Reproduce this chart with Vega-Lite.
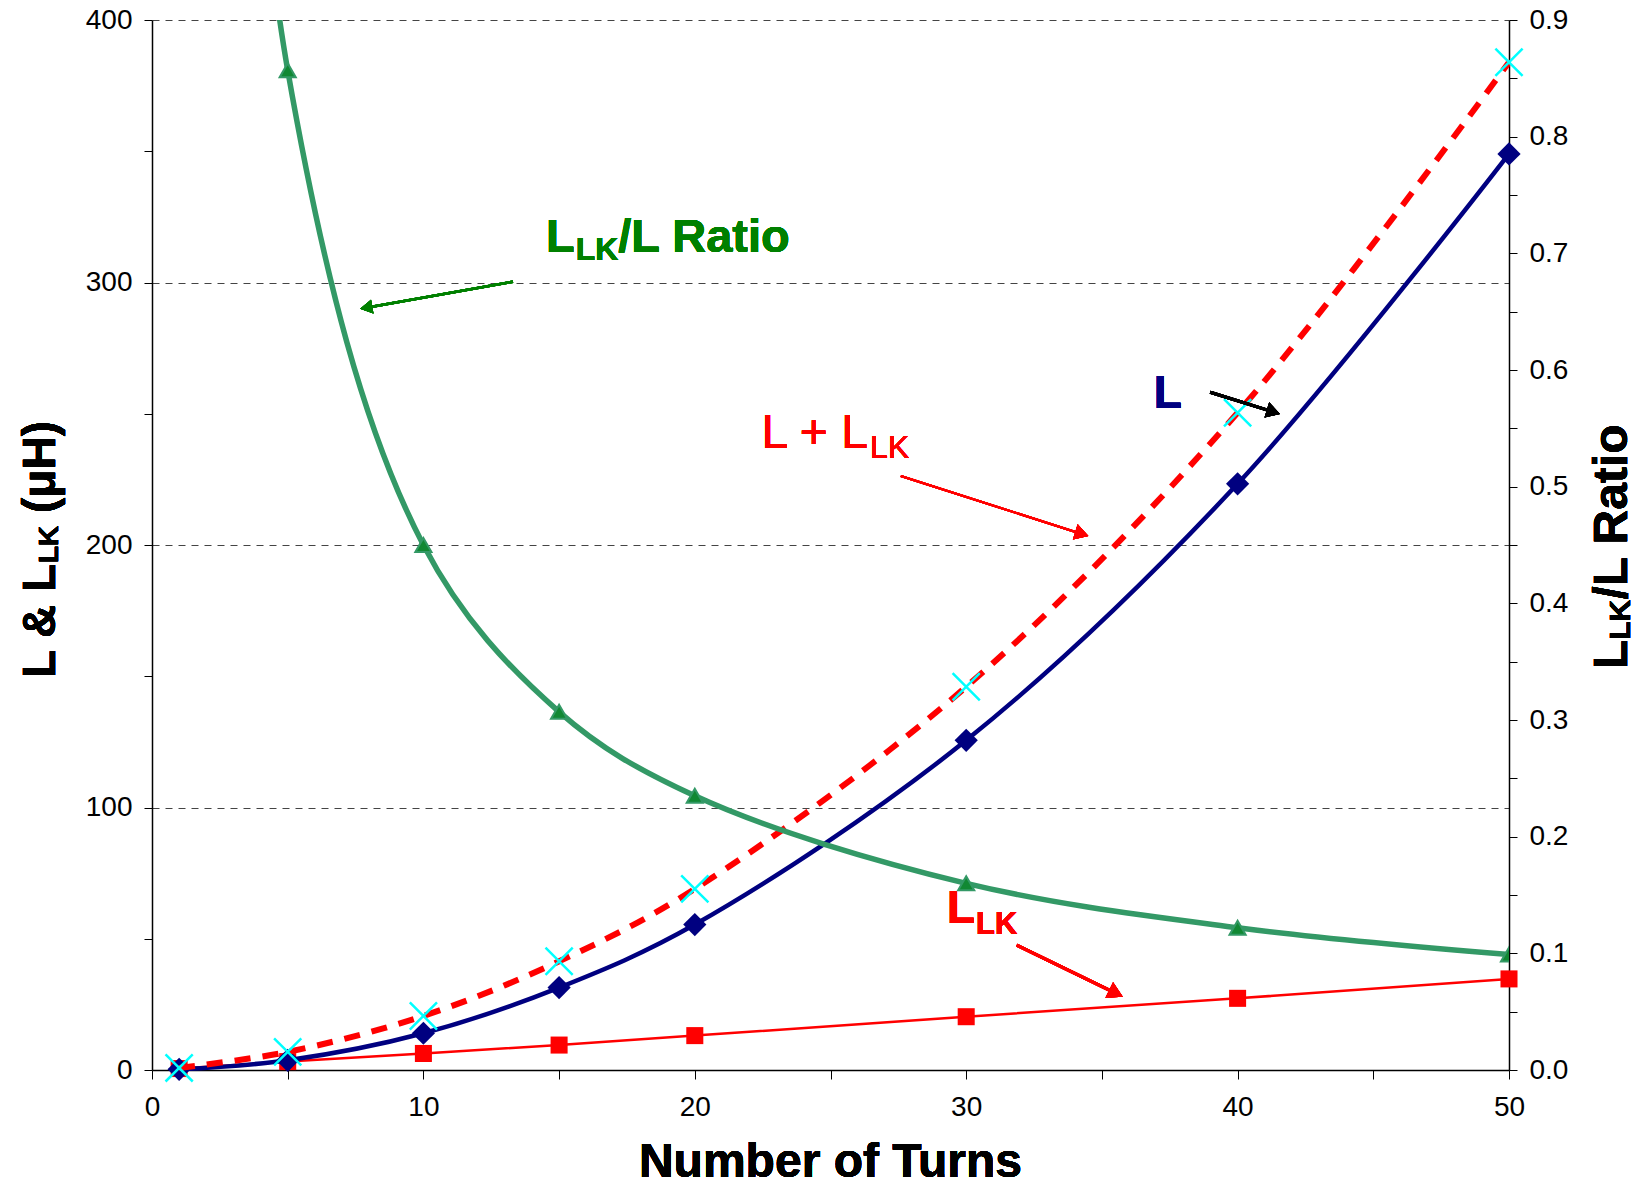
{
  "$schema": "https://vega.github.io/schema/vega-lite/v6.json",
  "width": 1357,
  "height": 1050,
  "autosize": {"type": "none"},
  "padding": {"left": 152, "top": 20, "right": 133, "bottom": 116},
  "background": "white",
  "config": {"view": {"stroke": null}, "font": "Liberation Sans"},
  "data": {"values": [
    {"N": 1, "L": 0.25, "LLK": 0.55, "Lsum": 0.8, "Ratio": 2.2},
    {"N": 5, "L": 3.7, "LLK": 3.2, "Lsum": 6.9, "Ratio": 0.857},
    {"N": 10, "L": 14, "LLK": 6.3, "Lsum": 20.6, "Ratio": 0.45},
    {"N": 15, "L": 31.4, "LLK": 9.5, "Lsum": 41.4, "Ratio": 0.307},
    {"N": 20, "L": 55.4, "LLK": 13.1, "Lsum": 69, "Ratio": 0.235},
    {"N": 30, "L": 125.6, "LLK": 20.3, "Lsum": 146, "Ratio": 0.16},
    {"N": 40, "L": 223.3, "LLK": 27.3, "Lsum": 250.4, "Ratio": 0.122},
    {"N": 50, "L": 349, "LLK": 34.7, "Lsum": 383.9, "Ratio": 0.099}
  ]},
  "layer": [
    {
      "layer": [
        {
          "mark": {"type": "line", "color": "#ff0000", "strokeWidth": 2.5},
          "encoding": {
            "x": {"field": "N", "type": "quantitative", "scale": {"domain": [0, 50], "nice": false, "zero": false},
              "axis": {"orient": "bottom", "values": [0,5,10,15,20,25,30,35,40,45,50], "labelExpr": "datum.value % 10 === 0 ? datum.label : ''", "title": null, "grid": false, "tickSize": 9, "tickColor": "black", "domainColor": "black", "domainWidth": 1.5, "labelFontSize": 28, "labelFont": "Liberation Sans", "labelColor": "black", "labelPadding": 14, "labelFlush": false, "labelOverlap": false}},
            "y": {"field": "LLK", "type": "quantitative", "scale": {"domain": [0, 400], "nice": false, "zero": false},
              "axis": {"orient": "left", "values": [0,50,100,150,200,250,300,350,400], "format": "d", "labelExpr": "datum.value % 100 === 0 ? datum.label : ''", "title": null, "grid": true, "gridColor": "#444444", "gridDash": [7, 6], "gridWidth": 1.2, "gridOpacity": {"condition": {"test": "datum.value % 100 === 0 && datum.value > 0", "value": 1}, "value": 0}, "tickSize": 8, "tickColor": "black", "domainColor": "black", "domainWidth": 1.5, "labelFontSize": 28, "labelFont": "Liberation Sans", "labelColor": "black", "labelPadding": 12, "labelFlush": false, "labelOverlap": false}}
          }
        },
        {
          "mark": {"type": "point", "shape": "square", "filled": true, "color": "#ff0000", "size": 290, "opacity": 1},
          "encoding": {
            "x": {"field": "N", "type": "quantitative", "scale": {"domain": [0, 50], "nice": false, "zero": false}},
            "y": {"field": "LLK", "type": "quantitative", "scale": {"domain": [0, 400], "nice": false, "zero": false}}
          }
        },
        {
          "mark": {"type": "line", "color": "#000080", "strokeWidth": 4.5, "interpolate": "catmull-rom"},
          "encoding": {
            "x": {"field": "N", "type": "quantitative", "scale": {"domain": [0, 50], "nice": false, "zero": false}},
            "y": {"field": "L", "type": "quantitative", "scale": {"domain": [0, 400], "nice": false, "zero": false}}
          }
        },
        {
          "mark": {"type": "point", "shape": "diamond", "filled": true, "color": "#000080", "size": 540, "opacity": 1},
          "encoding": {
            "x": {"field": "N", "type": "quantitative", "scale": {"domain": [0, 50], "nice": false, "zero": false}},
            "y": {"field": "L", "type": "quantitative", "scale": {"domain": [0, 400], "nice": false, "zero": false}}
          }
        },
        {
          "mark": {"type": "line", "color": "#ff0000", "strokeWidth": 6, "strokeDash": [16, 12], "interpolate": "catmull-rom"},
          "encoding": {
            "x": {"field": "N", "type": "quantitative", "scale": {"domain": [0, 50], "nice": false, "zero": false}},
            "y": {"field": "Lsum", "type": "quantitative", "scale": {"domain": [0, 400], "nice": false, "zero": false}}
          }
        },
        {
          "mark": {"type": "point", "shape": "M-1,-1L1,1M-1,1L1,-1", "filled": false, "color": "#00ffff", "strokeWidth": 2.5, "size": 740, "opacity": 1},
          "encoding": {
            "x": {"field": "N", "type": "quantitative", "scale": {"domain": [0, 50], "nice": false, "zero": false}},
            "y": {"field": "Lsum", "type": "quantitative", "scale": {"domain": [0, 400], "nice": false, "zero": false}}
          }
        },
        {
          "mark": {"type": "rule", "color": "#008000", "strokeWidth": 2.5},
          "encoding": {
            "x": {"datum": 13.30, "type": "quantitative", "scale": {"domain": [0, 50], "nice": false, "zero": false}},
            "y": {"datum": 300.3, "type": "quantitative", "scale": {"domain": [0, 400], "nice": false, "zero": false}},
            "x2": {"datum": 7.893}, "y2": {"datum": 290.4}
          }
        },
        {
          "mark": {"type": "point", "shape": "triangle-up", "filled": true, "color": "#008000", "size": 200, "angle": 259.9, "opacity": 1},
          "encoding": {
            "x": {"datum": 7.893, "type": "quantitative", "scale": {"domain": [0, 50], "nice": false, "zero": false}},
            "y": {"datum": 290.4, "type": "quantitative", "scale": {"domain": [0, 400], "nice": false, "zero": false}}
          }
        },
        {
          "mark": {"type": "rule", "color": "#ff0000", "strokeWidth": 2},
          "encoding": {
            "x": {"datum": 27.59, "type": "quantitative", "scale": {"domain": [0, 50], "nice": false, "zero": false}},
            "y": {"datum": 226.3, "type": "quantitative", "scale": {"domain": [0, 400], "nice": false, "zero": false}},
            "x2": {"datum": 34.26}, "y2": {"datum": 204.2}
          }
        },
        {
          "mark": {"type": "point", "shape": "triangle-up", "filled": true, "color": "#ff0000", "size": 250, "angle": 107.7, "opacity": 1},
          "encoding": {
            "x": {"datum": 34.26, "type": "quantitative", "scale": {"domain": [0, 50], "nice": false, "zero": false}},
            "y": {"datum": 204.2, "type": "quantitative", "scale": {"domain": [0, 400], "nice": false, "zero": false}}
          }
        },
        {
          "mark": {"type": "rule", "color": "#000000", "strokeWidth": 3},
          "encoding": {
            "x": {"datum": 38.99, "type": "quantitative", "scale": {"domain": [0, 50], "nice": false, "zero": false}},
            "y": {"datum": 258.2, "type": "quantitative", "scale": {"domain": [0, 400], "nice": false, "zero": false}},
            "x2": {"datum": 41.32}, "y2": {"datum": 250.7}
          }
        },
        {
          "mark": {"type": "point", "shape": "triangle-up", "filled": true, "color": "#000000", "size": 250, "angle": 107.3, "opacity": 1},
          "encoding": {
            "x": {"datum": 41.32, "type": "quantitative", "scale": {"domain": [0, 50], "nice": false, "zero": false}},
            "y": {"datum": 250.7, "type": "quantitative", "scale": {"domain": [0, 400], "nice": false, "zero": false}}
          }
        },
        {
          "mark": {"type": "rule", "color": "#ff0000", "strokeWidth": 3},
          "encoding": {
            "x": {"datum": 31.86, "type": "quantitative", "scale": {"domain": [0, 50], "nice": false, "zero": false}},
            "y": {"datum": 47.6, "type": "quantitative", "scale": {"domain": [0, 400], "nice": false, "zero": false}},
            "x2": {"datum": 35.52}, "y2": {"datum": 29.2}
          }
        },
        {
          "mark": {"type": "point", "shape": "triangle-up", "filled": true, "color": "#ff0000", "size": 300, "angle": 116.0, "opacity": 1},
          "encoding": {
            "x": {"datum": 35.52, "type": "quantitative", "scale": {"domain": [0, 50], "nice": false, "zero": false}},
            "y": {"datum": 29.2, "type": "quantitative", "scale": {"domain": [0, 400], "nice": false, "zero": false}}
          }
        },
        {
          "mark": {"type": "text", "text": "L", "font": "Liberation Sans", "fontSize": 47, "fontWeight": "bold", "color": "#008000", "align": "left", "baseline": "alphabetic"},
          "encoding": {
            "x": {"datum": 14.52, "type": "quantitative", "scale": {"domain": [0, 50], "nice": false, "zero": false}},
            "y": {"datum": 311.7, "type": "quantitative", "scale": {"domain": [0, 400], "nice": false, "zero": false}}
          }
        },
        {
          "mark": {"type": "text", "text": "LK", "font": "Liberation Sans", "fontSize": 32, "fontWeight": "bold", "color": "#008000", "align": "left", "baseline": "alphabetic"},
          "encoding": {
            "x": {"datum": 15.61, "type": "quantitative", "scale": {"domain": [0, 50], "nice": false, "zero": false}},
            "y": {"datum": 308.6, "type": "quantitative", "scale": {"domain": [0, 400], "nice": false, "zero": false}}
          }
        },
        {
          "mark": {"type": "text", "text": "/L Ratio", "font": "Liberation Sans", "fontSize": 47, "fontWeight": "bold", "color": "#008000", "align": "left", "baseline": "alphabetic"},
          "encoding": {
            "x": {"datum": 17.18, "type": "quantitative", "scale": {"domain": [0, 50], "nice": false, "zero": false}},
            "y": {"datum": 311.7, "type": "quantitative", "scale": {"domain": [0, 400], "nice": false, "zero": false}}
          }
        },
        {
          "mark": {"type": "text", "text": "L + L", "font": "Liberation Sans", "fontSize": 48, "color": "#ff0000", "align": "left", "baseline": "alphabetic"},
          "encoding": {
            "x": {"datum": 22.46, "type": "quantitative", "scale": {"domain": [0, 50], "nice": false, "zero": false}},
            "y": {"datum": 236.8, "type": "quantitative", "scale": {"domain": [0, 400], "nice": false, "zero": false}}
          }
        },
        {
          "mark": {"type": "text", "text": "LK", "font": "Liberation Sans", "fontSize": 32, "color": "#ff0000", "align": "left", "baseline": "alphabetic"},
          "encoding": {
            "x": {"datum": 26.46, "type": "quantitative", "scale": {"domain": [0, 50], "nice": false, "zero": false}},
            "y": {"datum": 233.0, "type": "quantitative", "scale": {"domain": [0, 400], "nice": false, "zero": false}}
          }
        },
        {
          "mark": {"type": "text", "text": "L", "font": "Liberation Sans", "fontSize": 46, "fontWeight": "bold", "color": "#000080", "align": "left", "baseline": "alphabetic"},
          "encoding": {
            "x": {"datum": 36.91, "type": "quantitative", "scale": {"domain": [0, 50], "nice": false, "zero": false}},
            "y": {"datum": 252.1, "type": "quantitative", "scale": {"domain": [0, 400], "nice": false, "zero": false}}
          }
        },
        {
          "mark": {"type": "text", "text": "L", "font": "Liberation Sans", "fontSize": 46, "fontWeight": "bold", "color": "#ff0000", "align": "left", "baseline": "alphabetic"},
          "encoding": {
            "x": {"datum": 29.29, "type": "quantitative", "scale": {"domain": [0, 50], "nice": false, "zero": false}},
            "y": {"datum": 55.9, "type": "quantitative", "scale": {"domain": [0, 400], "nice": false, "zero": false}}
          }
        },
        {
          "mark": {"type": "text", "text": "LK", "font": "Liberation Sans", "fontSize": 31, "fontWeight": "bold", "color": "#ff0000", "align": "left", "baseline": "alphabetic"},
          "encoding": {
            "x": {"datum": 30.36, "type": "quantitative", "scale": {"domain": [0, 50], "nice": false, "zero": false}},
            "y": {"datum": 51.8, "type": "quantitative", "scale": {"domain": [0, 400], "nice": false, "zero": false}}
          }
        },
        {
          "mark": {"type": "text", "text": "Number of Turns", "font": "Liberation Sans", "fontSize": 48, "fontWeight": "bold", "color": "#000000", "align": "center", "baseline": "alphabetic"},
          "encoding": {
            "x": {"datum": 25.0, "type": "quantitative", "scale": {"domain": [0, 50], "nice": false, "zero": false}},
            "y": {"datum": -40.76, "type": "quantitative", "scale": {"domain": [0, 400], "nice": false, "zero": false}}
          }
        },
        {
          "mark": {"type": "text", "text": "L & L", "font": "Liberation Sans", "fontSize": 46, "fontWeight": "bold", "color": "#000000", "align": "left", "baseline": "alphabetic", "angle": 270},
          "encoding": {
            "x": {"datum": -3.574, "type": "quantitative", "scale": {"domain": [0, 50], "nice": false, "zero": false}},
            "y": {"datum": 149.3, "type": "quantitative", "scale": {"domain": [0, 400], "nice": false, "zero": false}}
          }
        },
        {
          "mark": {"type": "text", "text": "LK", "font": "Liberation Sans", "fontSize": 28, "fontWeight": "bold", "color": "#000000", "align": "left", "baseline": "alphabetic", "angle": 270},
          "encoding": {
            "x": {"datum": -3.464, "type": "quantitative", "scale": {"domain": [0, 50], "nice": false, "zero": false}},
            "y": {"datum": 193.1, "type": "quantitative", "scale": {"domain": [0, 400], "nice": false, "zero": false}}
          }
        },
        {
          "mark": {"type": "text", "text": "(μH)", "font": "Liberation Sans", "fontSize": 46, "fontWeight": "bold", "color": "#000000", "align": "left", "baseline": "alphabetic", "angle": 270},
          "encoding": {
            "x": {"datum": -3.574, "type": "quantitative", "scale": {"domain": [0, 50], "nice": false, "zero": false}},
            "y": {"datum": 212.2, "type": "quantitative", "scale": {"domain": [0, 400], "nice": false, "zero": false}}
          }
        },
        {
          "mark": {"type": "text", "text": "L", "font": "Liberation Sans", "fontSize": 48, "fontWeight": "bold", "color": "#000000", "align": "left", "baseline": "alphabetic", "angle": 270},
          "encoding": {
            "x": {"datum": 54.33, "type": "quantitative", "scale": {"domain": [0, 50], "nice": false, "zero": false}},
            "y": {"datum": 152.8, "type": "quantitative", "scale": {"domain": [0, 400], "nice": false, "zero": false}}
          }
        },
        {
          "mark": {"type": "text", "text": "LK", "font": "Liberation Sans", "fontSize": 30, "fontWeight": "bold", "color": "#000000", "align": "left", "baseline": "alphabetic", "angle": 270},
          "encoding": {
            "x": {"datum": 54.46, "type": "quantitative", "scale": {"domain": [0, 50], "nice": false, "zero": false}},
            "y": {"datum": 163.9, "type": "quantitative", "scale": {"domain": [0, 400], "nice": false, "zero": false}}
          }
        },
        {
          "mark": {"type": "text", "text": "/L Ratio", "font": "Liberation Sans", "fontSize": 48, "fontWeight": "bold", "color": "#000000", "align": "left", "baseline": "alphabetic", "angle": 270},
          "encoding": {
            "x": {"datum": 54.33, "type": "quantitative", "scale": {"domain": [0, 50], "nice": false, "zero": false}},
            "y": {"datum": 179.2, "type": "quantitative", "scale": {"domain": [0, 400], "nice": false, "zero": false}}
          }
        }
      ]
    },
    {
      "layer": [
        {
          "mark": {"type": "line", "color": "#339966", "strokeWidth": 5.5, "interpolate": "catmull-rom", "clip": true},
          "encoding": {
            "x": {"field": "N", "type": "quantitative", "scale": {"domain": [0, 50], "nice": false, "zero": false},
              "axis": {"orient": "bottom", "values": [0,5,10,15,20,25,30,35,40,45,50], "labelExpr": "datum.value % 10 === 0 ? datum.label : ''", "title": null, "grid": false, "tickSize": 9, "tickColor": "black", "domainColor": "black", "domainWidth": 1.5, "labelFontSize": 28, "labelFont": "Liberation Sans", "labelColor": "black", "labelPadding": 14, "labelFlush": false, "labelOverlap": false}},
            "y": {"field": "Ratio", "type": "quantitative", "scale": {"domain": [0, 0.9], "nice": false, "zero": false},
              "axis": {"orient": "right", "values": [0,0.05,0.1,0.15,0.2,0.25,0.3,0.35,0.4,0.45,0.5,0.55,0.6,0.65,0.7,0.75,0.8,0.85,0.9], "labelExpr": "abs(datum.value*10 - round(datum.value*10)) < 0.001 ? format(datum.value, '.1f') : ''", "title": null, "grid": false, "tickSize": 8, "tickColor": "black", "domainColor": "black", "domainWidth": 1.5, "labelFontSize": 28, "labelFont": "Liberation Sans", "labelColor": "black", "labelPadding": 12, "labelFlush": false, "labelOverlap": false}}
          }
        },
        {
          "mark": {"type": "point", "shape": "triangle-up", "filled": true, "color": "#118833", "stroke": "#339966", "strokeWidth": 2, "size": 260, "opacity": 1, "clip": true},
          "encoding": {
            "x": {"field": "N", "type": "quantitative", "scale": {"domain": [0, 50], "nice": false, "zero": false}},
            "y": {"field": "Ratio", "type": "quantitative", "scale": {"domain": [0, 0.9], "nice": false, "zero": false}}
          }
        }
      ]
    }
  ],
  "resolve": {"scale": {"y": "independent"}}
}
